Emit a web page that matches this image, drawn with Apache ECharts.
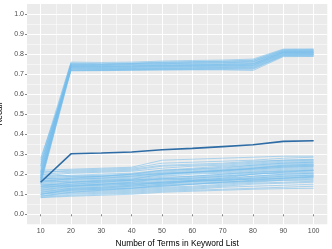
<!DOCTYPE html>
<html><head><meta charset="utf-8">
<script src="https://cdn.jsdelivr.net/npm/echarts@6/dist/echarts.min.js"></script>
<style>html,body{margin:0;padding:0;background:#fff}#c{width:332px;height:249px}</style>
</head><body><div id="c"></div>
<script>
const terms = [10,20,30,40,50,60,70,80,90,100];
const xTicks = [10,20,30,40,50,60,70,80,90,100];
const xMinor = [15,25,35,45,55,65,75,85,95];
const yTicks = [0,0.1,0.2,0.3,0.4,0.5,0.6,0.7,0.8,0.9,1.0];
const yMinor = [0.05,0.15,0.25,0.35,0.45,0.55,0.65,0.75,0.85,0.95];

const upperLists = [
 [0.27,0.760,0.758,0.760,0.765,0.768,0.770,0.775,0.825,0.826],
 [0.25,0.755,0.752,0.755,0.760,0.762,0.763,0.768,0.820,0.821],
 [0.24,0.752,0.750,0.752,0.756,0.758,0.760,0.764,0.818,0.818],
 [0.22,0.748,0.747,0.750,0.752,0.754,0.756,0.760,0.815,0.816],
 [0.21,0.745,0.742,0.746,0.748,0.750,0.752,0.756,0.812,0.813],
 [0.20,0.742,0.740,0.742,0.745,0.747,0.748,0.752,0.810,0.810],
 [0.19,0.740,0.738,0.740,0.742,0.744,0.745,0.749,0.808,0.808],
 [0.18,0.738,0.735,0.737,0.740,0.742,0.743,0.746,0.806,0.806],
 [0.18,0.735,0.733,0.735,0.738,0.740,0.741,0.744,0.804,0.805],
 [0.17,0.733,0.730,0.733,0.736,0.738,0.739,0.742,0.802,0.803],
 [0.17,0.730,0.728,0.730,0.733,0.735,0.736,0.739,0.800,0.800],
 [0.16,0.728,0.726,0.728,0.730,0.732,0.733,0.736,0.798,0.798],
 [0.16,0.725,0.724,0.726,0.728,0.730,0.731,0.733,0.796,0.797],
 [0.23,0.722,0.722,0.724,0.726,0.728,0.729,0.730,0.794,0.795],
 [0.26,0.720,0.720,0.722,0.724,0.725,0.726,0.727,0.792,0.792],
 [0.15,0.718,0.718,0.720,0.722,0.723,0.724,0.724,0.790,0.790],
 [0.28,0.716,0.717,0.719,0.720,0.721,0.721,0.718,0.787,0.788],
 [0.21,0.750,0.748,0.753,0.758,0.762,0.765,0.770,0.822,0.823],
 [0.19,0.744,0.744,0.748,0.752,0.755,0.757,0.762,0.814,0.815],
 [0.24,0.736,0.736,0.740,0.744,0.746,0.748,0.752,0.809,0.810]
];

const lowerLists = [
 [0.22,0.225,0.23,0.235,0.27,0.275,0.28,0.285,0.29,0.29],
 [0.21,0.22,0.225,0.23,0.255,0.26,0.265,0.27,0.28,0.285],
 [0.20,0.21,0.215,0.22,0.24,0.245,0.25,0.26,0.27,0.275],
 [0.19,0.205,0.21,0.215,0.23,0.24,0.245,0.255,0.265,0.27],
 [0.185,0.195,0.20,0.205,0.22,0.23,0.24,0.25,0.26,0.265],
 [0.18,0.19,0.195,0.20,0.215,0.225,0.23,0.245,0.255,0.26],
 [0.175,0.185,0.19,0.195,0.21,0.22,0.225,0.24,0.25,0.255],
 [0.17,0.18,0.185,0.19,0.205,0.215,0.22,0.235,0.245,0.25],
 [0.165,0.175,0.18,0.185,0.20,0.21,0.215,0.23,0.24,0.245],
 [0.16,0.17,0.175,0.18,0.195,0.205,0.21,0.225,0.235,0.24],
 [0.155,0.165,0.17,0.175,0.19,0.20,0.205,0.22,0.23,0.235],
 [0.15,0.16,0.165,0.17,0.18,0.19,0.20,0.215,0.225,0.23],
 [0.145,0.155,0.16,0.165,0.175,0.185,0.195,0.21,0.22,0.225],
 [0.14,0.15,0.155,0.16,0.17,0.18,0.19,0.205,0.215,0.22],
 [0.135,0.145,0.15,0.155,0.165,0.175,0.185,0.20,0.21,0.215],
 [0.13,0.14,0.145,0.15,0.16,0.17,0.18,0.19,0.20,0.205],
 [0.125,0.135,0.14,0.145,0.155,0.165,0.17,0.185,0.195,0.20],
 [0.12,0.13,0.135,0.14,0.15,0.16,0.165,0.18,0.19,0.195],
 [0.115,0.125,0.13,0.135,0.145,0.155,0.16,0.17,0.18,0.185],
 [0.11,0.12,0.125,0.13,0.14,0.15,0.155,0.165,0.175,0.18],
 [0.105,0.115,0.12,0.125,0.135,0.14,0.15,0.16,0.17,0.175],
 [0.10,0.11,0.115,0.12,0.13,0.135,0.145,0.155,0.16,0.165],
 [0.095,0.105,0.11,0.115,0.125,0.13,0.14,0.15,0.155,0.16],
 [0.09,0.10,0.105,0.11,0.12,0.125,0.135,0.14,0.145,0.15],
 [0.085,0.095,0.10,0.105,0.115,0.12,0.125,0.13,0.135,0.14],
 [0.083,0.09,0.095,0.10,0.11,0.115,0.12,0.125,0.128,0.13],
 [0.12,0.14,0.15,0.16,0.18,0.17,0.18,0.20,0.21,0.22],
 [0.20,0.19,0.19,0.20,0.20,0.21,0.22,0.23,0.24,0.245],
 [0.14,0.16,0.17,0.175,0.20,0.21,0.215,0.23,0.245,0.25],
 [0.17,0.16,0.165,0.17,0.175,0.18,0.19,0.20,0.205,0.21],
 [0.10,0.125,0.13,0.14,0.15,0.165,0.175,0.18,0.19,0.195],
 [0.15,0.145,0.15,0.155,0.16,0.165,0.17,0.175,0.18,0.185],
 [0.13,0.15,0.16,0.17,0.185,0.19,0.20,0.21,0.215,0.22],
 [0.09,0.11,0.12,0.13,0.14,0.15,0.16,0.165,0.17,0.17],
 [0.21,0.215,0.22,0.225,0.245,0.25,0.255,0.265,0.27,0.272],
 [0.16,0.18,0.19,0.20,0.22,0.225,0.235,0.245,0.255,0.26],
 [0.11,0.13,0.135,0.145,0.16,0.17,0.175,0.19,0.20,0.205],
 [0.18,0.175,0.18,0.19,0.205,0.21,0.22,0.225,0.235,0.24],
 [0.14,0.14,0.145,0.15,0.155,0.165,0.17,0.175,0.185,0.19],
 [0.10,0.12,0.125,0.13,0.145,0.15,0.16,0.17,0.18,0.19]
];

const highlight = [0.16,0.302,0.306,0.311,0.322,0.329,0.338,0.347,0.364,0.367];

const chart = echarts.init(document.getElementById('c'), null, {renderer:'canvas'});
const toPairs = vals => terms.map((t,i)=>[t, vals[i]]);
const series = [];
upperLists.concat(lowerLists).forEach(v => series.push({
  type:'line', data: toPairs(v), symbol:'none', silent:true, animation:false,
  lineStyle:{color:'#74BCEC', width:0.7, opacity:0.8}
}));
series.push({type:'line', data: toPairs(highlight), symbol:'none', silent:true, animation:false,
  lineStyle:{color:'#2E6CA5', width:1.6}, z:5});

const font = 'Liberation Sans, Arial, sans-serif';
chart.setOption({
  animation:false,
  grid:{left:27, right:4.7, top:4, bottom:24.7, show:true, backgroundColor:'#EBEBEB', borderWidth:0,
        containLabel:false, outerBoundsMode:'none'},
  xAxis:[
    {type:'value', min:5.5, max:104.5,
     name:'Number of Terms in Keyword List', nameLocation:'middle', nameGap:11,
     nameTextStyle:{color:'#000', fontSize:8.4, fontFamily:font},
     axisLine:{show:false},
     axisTick:{show:true, length:2, customValues:xTicks, lineStyle:{color:'#333', width:0.6}},
     axisLabel:{customValues:xTicks, color:'#4D4D4D', fontSize:7, margin:3, fontFamily:font},
     splitLine:{show:true, lineStyle:{color:'#fff', width:1}}},
    {type:'value', min:5.5, max:104.5, show:true,
     axisLine:{show:false}, axisLabel:{show:false},
     axisTick:{show:false, customValues:xMinor},
     splitLine:{show:true, lineStyle:{color:'#fff', width:0.5}}}
  ],
  yAxis:[
    {type:'value', min:-0.05, max:1.05,
     name:'Recall', nameLocation:'middle', nameGap:16,
     nameTextStyle:{color:'#000', fontSize:8.4, fontFamily:font},
     axisLine:{show:false},
     axisTick:{show:true, length:2, customValues:yTicks, lineStyle:{color:'#333', width:0.6}},
     axisLabel:{customValues:yTicks, color:'#4D4D4D', fontSize:7, margin:3, fontFamily:font,
       formatter: v => v.toFixed(1)},
     splitLine:{show:true, lineStyle:{color:'#fff', width:1}}},
    {type:'value', min:-0.05, max:1.05, show:true,
     axisLine:{show:false}, axisLabel:{show:false},
     axisTick:{show:false, customValues:yMinor},
     splitLine:{show:true, lineStyle:{color:'#fff', width:0.5}}}
  ],
  series: series
});
</script></body></html>
